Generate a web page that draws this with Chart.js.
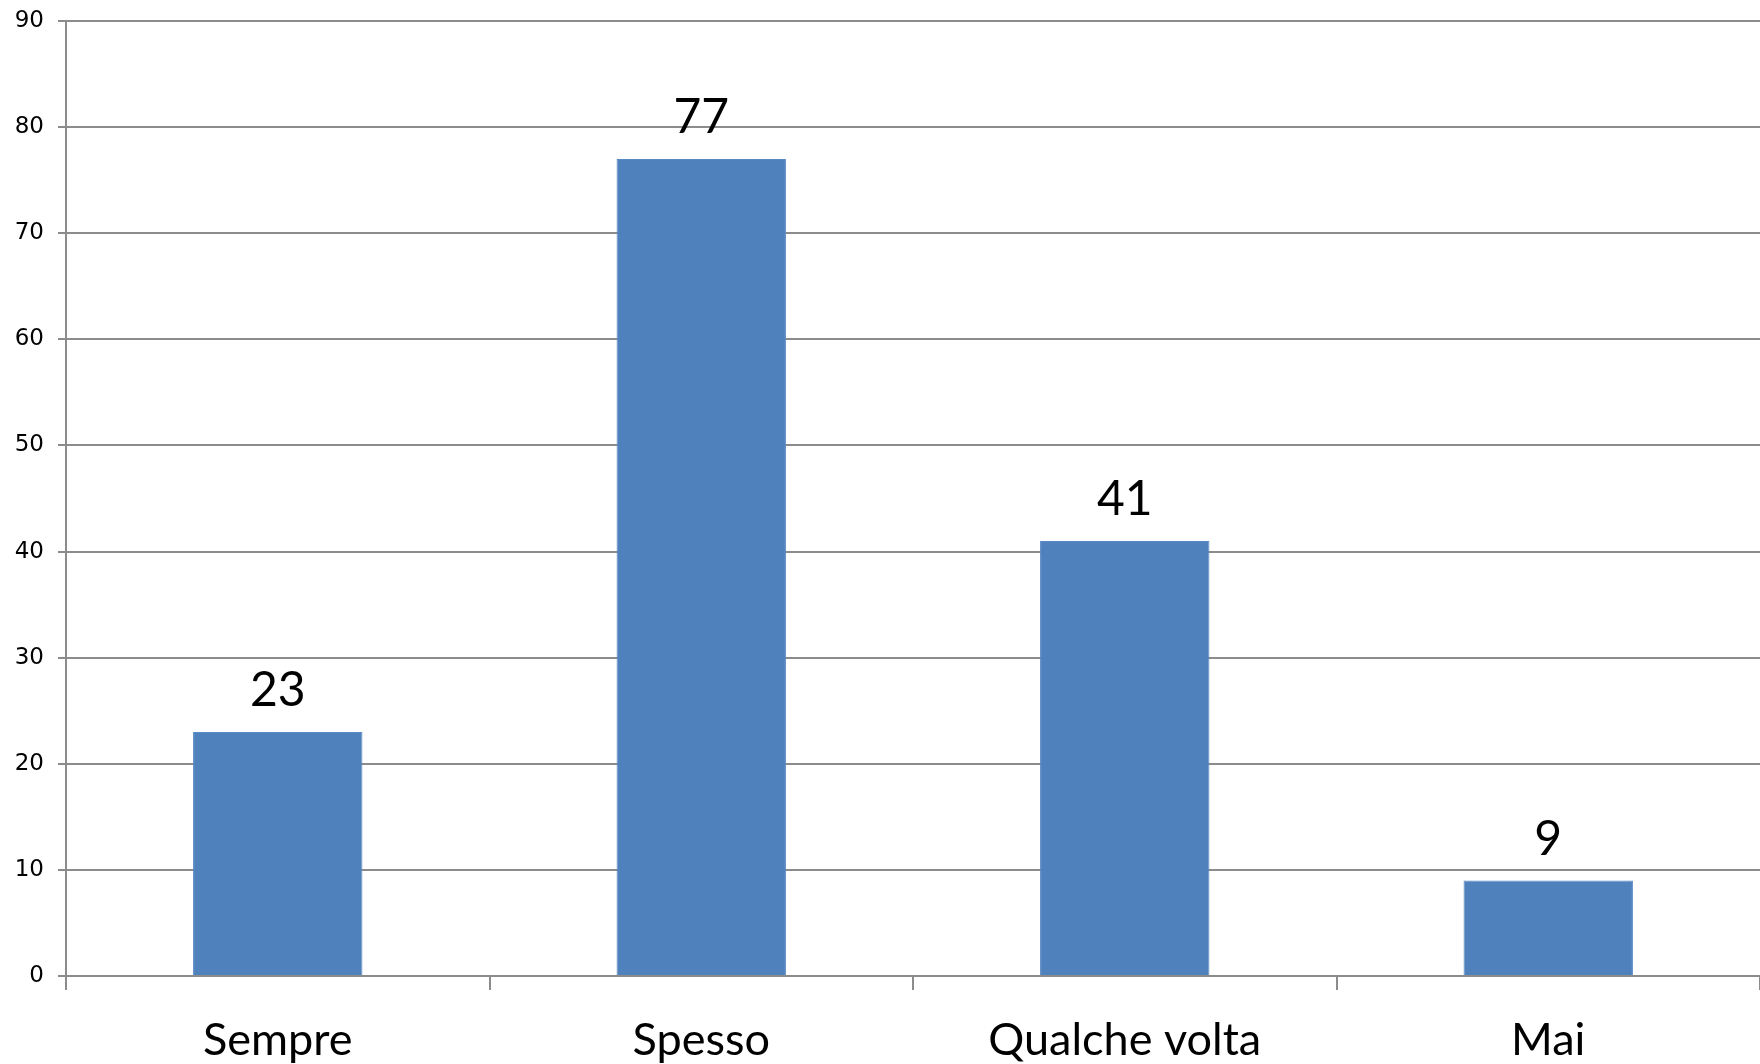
<!DOCTYPE html>
<html>
<head>
<meta charset="utf-8">
<script src="https://cdn.jsdelivr.net/npm/chart.js@4/dist/chart.umd.min.js"></script>
<style>
  html, body { margin: 0; padding: 0; background: #fff; }
  #wrap { width: 1760px; height: 1064px; }
</style>
</head>
<body>
<div id="wrap"><canvas id="chart"></canvas></div>
<script>
const categories = ["Sempre", "Spesso", "Qualche volta", "Mai"];
const counts = [23, 77, 41, 9];
const yTicks = [0, 10, 20, 30, 40, 50, 60, 70, 80, 90];

const gridColor = '#8c8c8c';

// value labels above each bar
const barLabels = {
    id: 'barLabels',
    afterDatasetsDraw(chart) {
        const c = chart.ctx;
        const meta = chart.getDatasetMeta(0);
        c.save();
        c.font = '48px Lato';
        c.fillStyle = '#000';
        c.textAlign = 'center';
        c.textBaseline = 'alphabetic';
        meta.data.forEach((bar, i) => {
            c.fillText(String(counts[i]), bar.x, bar.y - 26);
        });
        c.restore();
    }
};

const chart = new Chart(document.getElementById('chart'), {
    type: 'bar',
    data: {
        labels: categories,
        datasets: [{
            data: counts,
            backgroundColor: '#4f81bd',
            borderColor: '#5a8ac4',
            borderWidth: 1,
            barPercentage: 0.4,
            categoryPercentage: 1.0
        }]
    },
    options: {
        responsive: true,
        maintainAspectRatio: false,
        animation: false,
        layout: { padding: { top: 21, right: 0, left: 0, bottom: 0 } },
        plugins: {
            legend: { display: false },
            tooltip: { enabled: false }
        },
        scales: {
            x: {
                offset: true,
                grid: {
                    offset: true,
                    drawOnChartArea: false,
                    color: gridColor,
                    lineWidth: 2,
                    tickLength: 14
                },
                border: { color: gridColor, width: 2 },
                ticks: {
                    color: '#000',
                    font: { family: 'Lato', size: 45 },
                    padding: 23,
                    maxRotation: 0
                },
                afterFit(scale) { scale.height = 88; }
            },
            y: {
                min: 0,
                max: 90,
                afterBuildTicks(scale) {
                    scale.ticks = yTicks.map(v => ({ value: v }));
                },
                grid: {
                    color: gridColor,
                    lineWidth: 2,
                    tickLength: 8
                },
                border: { color: gridColor, width: 2 },
                ticks: {
                    color: '#000',
                    font: { family: 'DejaVu Sans', size: 23 },
                    padding: 14
                },
                afterFit(scale) {
                    scale.width = 66;
                    scale.paddingTop = 0;
                    scale.paddingBottom = 0;
                }
            }
        }
    },
    plugins: [barLabels]
});
</script>
</body>
</html>
